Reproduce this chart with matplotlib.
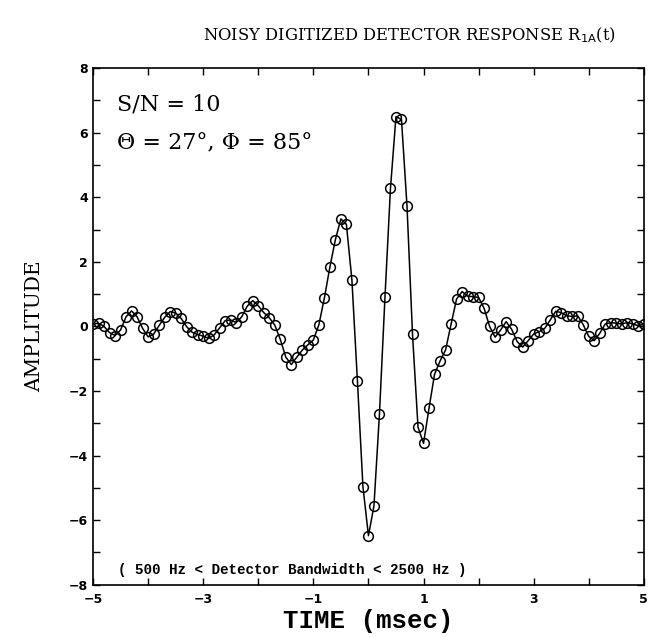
import numpy as np
import matplotlib
matplotlib.use("Agg")
import matplotlib.pyplot as plt
from matplotlib.ticker import MultipleLocator

# -- sampled detector response, 0.1 msec spacing --
time = np.linspace(-5, 5, 101)
amplitude = [
    0.08, 0.10, 0.00, -0.19, -0.28, -0.11, 0.30, 0.48, 0.30, -0.06,
    -0.32, -0.24, 0.03, 0.28, 0.46, 0.42, 0.25, -0.01, -0.18, -0.25,
    -0.30, -0.37, -0.26, -0.04, 0.18, 0.20, 0.12, 0.30, 0.63, 0.80,
    0.64, 0.43, 0.27, 0.04, -0.40, -0.95, -1.18, -0.95, -0.73, -0.57,
    -0.42, 0.05, 0.88, 1.84, 2.69, 3.33, 3.16, 1.44, -1.69, -4.96,
    -6.48, -5.56, -2.71, 0.90, 4.28, 6.50, 6.41, 3.73, -0.24, -3.12,
    -3.62, -2.53, -1.48, -1.07, -0.73, 0.07, 0.85, 1.08, 0.94, 0.92,
    0.90, 0.56, 0.00, -0.33, -0.11, 0.15, -0.09, -0.47, -0.64, -0.44,
    -0.23, -0.16, -0.06, 0.20, 0.47, 0.43, 0.33, 0.31, 0.33, 0.05,
    -0.31, -0.44, -0.21, 0.08, 0.12, 0.10, 0.08, 0.12, 0.08, 0.02,
    0.08,
]
assert len(amplitude) == len(time)

xticks = [-5, -3, -1, 1, 3, 5]
yticks = [-8, -6, -4, -2, 0, 2, 4, 6, 8]

serif = "DejaVu Serif"
mono = "Liberation Mono"

fig = plt.figure(figsize=(6.55, 6.37), dpi=100)
ax = fig.add_axes([0.142, 0.082, 0.841, 0.811])

ax.plot(time, amplitude, color="black", linewidth=1.1,
        marker="o", markersize=7, markerfacecolor="none",
        markeredgecolor="black", markeredgewidth=1.1)

ax.set_xlim(-5, 5)
ax.set_ylim(-8, 8)
ax.set_xticks(xticks)
ax.set_yticks(yticks)
ax.xaxis.set_minor_locator(MultipleLocator(1))
ax.yaxis.set_minor_locator(MultipleLocator(1))
ax.tick_params(which="both", direction="in", top=True, right=True,
               length=5, width=1.0)
for lab in ax.get_xticklabels() + ax.get_yticklabels():
    lab.set_fontfamily("DejaVu Sans")
    lab.set_fontweight("bold")
    lab.set_fontsize(9)
ax.tick_params(axis="x", pad=6)
for sp in ax.spines.values():
    sp.set_linewidth(1.2)

ax.set_xlabel("TIME (msec)", fontfamily=mono, fontsize=18.5, fontweight="bold",
              labelpad=2)
ax.set_ylabel("AMPLITUDE", fontfamily=serif, fontsize=14.5, labelpad=18)

fig.text(0.625, 0.945, "NOISY DIGITIZED DETECTOR RESPONSE R$_{\\mathrm{1A}}$(t)",
         ha="center", va="center", fontfamily=serif, fontsize=11.8)

ax.text(0.044, 0.93, "S/N = 10", transform=ax.transAxes,
        fontfamily=serif, fontsize=16, va="center")
ax.text(0.044, 0.855, "\u0398 = 27\u00b0, \u03a6 = 85\u00b0", transform=ax.transAxes,
        fontfamily=serif, fontsize=16, va="center")
ax.text(0.045, 0.028, "( 500 Hz < Detector Bandwidth < 2500 Hz )",
        transform=ax.transAxes, fontfamily=mono, fontweight="bold",
        fontsize=10.3, va="center")

fig.savefig("out.png", dpi=100)
